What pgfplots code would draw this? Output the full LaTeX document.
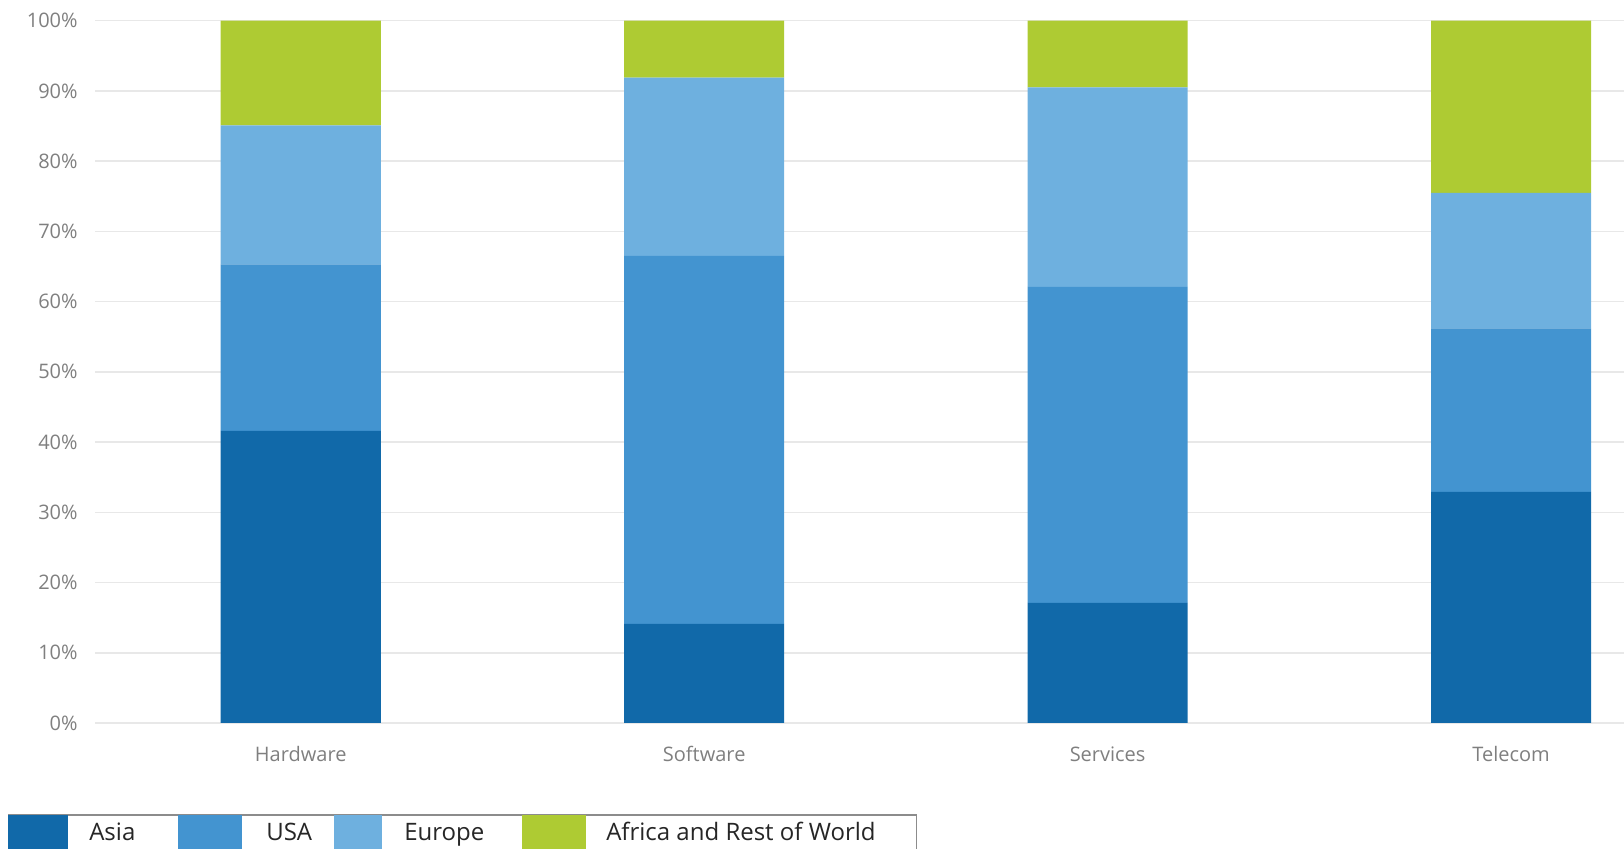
\documentclass[border=0pt]{standalone}
\usepackage{fontspec}
\setmainfont{Open Sans}
\usepackage{pgfplots}
\pgfplotsset{compat=1.18}
\definecolor{asia}{HTML}{1169A9}
\definecolor{usa}{HTML}{4394D0}
\definecolor{europe}{HTML}{6EB0DF}
\definecolor{africa}{HTML}{AECB33}
\definecolor{ticktext}{HTML}{7F7F7F}
\pgfplotsset{
  sw/.style={legend image code/.code={\path[##1,draw=none] (0pt,-9pt) rectangle (#1,9pt);}},
}
\begin{document}
\begin{tikzpicture}
\clip (-47.5pt,-63pt) rectangle (764.5pt,361.5pt);
\begin{axis}[
  at={(0,0)}, anchor=south west, scale only axis,
  width=764.5pt, height=351.15pt,
  ybar stacked, bar width=80pt,
  xmin=-0.51, xmax=3.28, ymin=0, ymax=100,
  xtick={0,1,2,3}, xticklabels={Hardware,Software,Services,Telecom},
  ytick={0,10,...,100},
  yticklabels={0\%,10\%,20\%,30\%,40\%,50\%,60\%,70\%,80\%,90\%,100\%},
  major tick length=0pt,
  axis line style={draw=none},
  ymajorgrids, major grid style={draw=black!9, line width=0.8pt},
  tick label style={font=\fontsize{10}{12}\selectfont, text=ticktext},
  yticklabel style={anchor=east, inner sep=0pt, xshift=-8.5pt},
  xticklabel style={anchor=base, inner sep=0pt, yshift=-19.5pt},
  legend columns=4,
  legend style={at={(0,0)}, anchor=north west, xshift=-43.35pt, yshift=-46pt,
    draw=black!45, line width=0.6pt, inner sep=0pt, outer sep=0pt,
    column sep=0pt, row sep=0pt,
    font=\fontsize{12}{14}\selectfont, text=black!85,
    nodes={inner sep=0pt, outer sep=0pt}},
  legend cell align=left,
]
\addplot+[sw=30pt, fill=asia, draw=none] coordinates {(0,41.6) (1,14.1) (2,17.1) (3,32.9)};
\addplot+[sw=32pt, fill=usa, draw=none] coordinates {(0,23.7) (1,52.4) (2,45.0) (3,23.3)};
\addplot+[sw=24pt, fill=europe, draw=none] coordinates {(0,19.8) (1,25.4) (2,28.4) (3,19.3)};
\addplot+[sw=32pt, fill=africa, draw=none] coordinates {(0,14.9) (1,8.1) (2,9.5) (3,24.5)};
\legend{\makebox[55pt][l]{\hspace{10.5pt}Asia},
        \makebox[46pt][l]{\hspace{12pt}USA},
        \makebox[70pt][l]{\hspace{11pt}Europe},
        \makebox[165pt][l]{\hspace{10pt}Africa and Rest of World}}
\end{axis}
\end{tikzpicture}
\end{document}
